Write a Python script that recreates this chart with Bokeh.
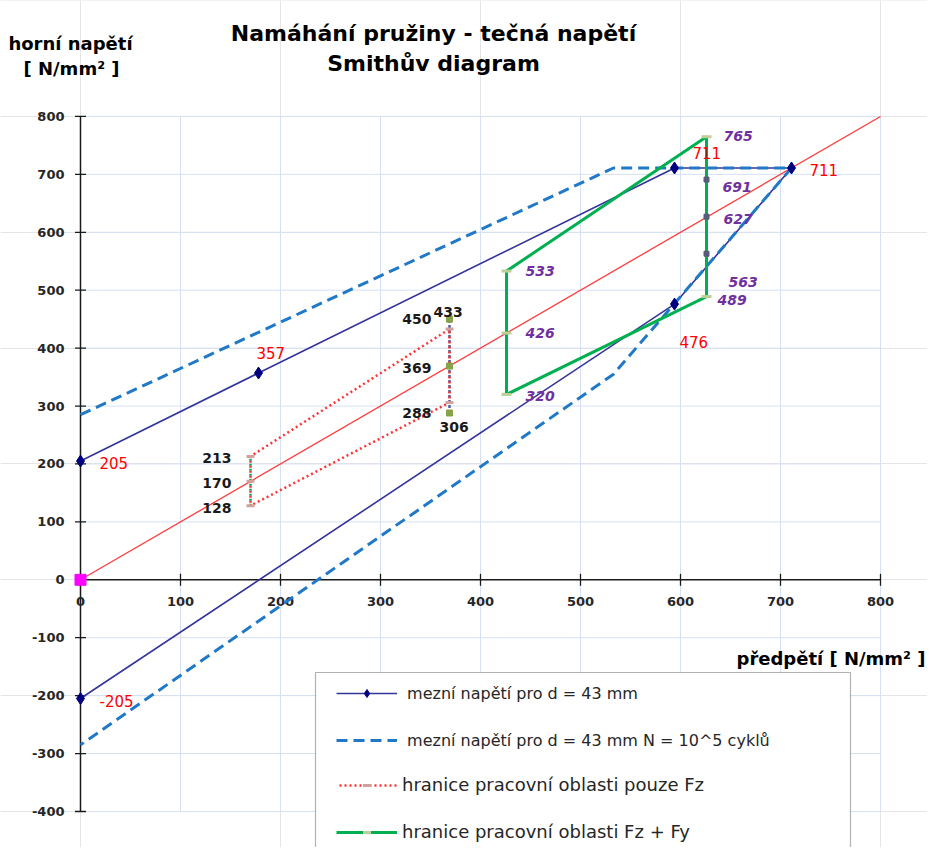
import math
from bokeh.plotting import figure
from bokeh.models import Range1d, Legend, LegendItem, BoxAnnotation, ColumnDataSource
from bokeh.core.properties import value
from bokeh.embed import file_html
from bokeh.resources import INLINE

# ---------------- data ----------------
x_ticks = [0, 100, 200, 300, 400, 500, 600, 700, 800]
y_ticks = [-400, -300, -200, -100, 0, 100, 200, 300, 400, 500, 600, 700, 800]

title_lines = ["Namáhání pružiny - tečná napětí", "Smithův diagram"]
y_title_lines = ["horní napětí", "[ N/mm² ]"]
x_title = "předpětí [ N/mm² ]"

legend_labels = [
    " mezní napětí pro d = 43 mm",
    " mezní napětí pro d = 43 mm N = 10^5 cyklů",
    "hranice pracovní oblasti pouze Fz",
    "hranice pracovní oblasti Fz + Fy",
]

# limit stress, d = 43 mm
limit_x = [0, 178, 594, 711, 594, 0]
limit_y = [205, 357, 711, 711, 476, -205]
# limit stress, N = 10^5 cycles
limit5_x = [0, 533, 711, 533, 0]
limit5_y = [285, 711, 711, 355, -285]
# mean stress line
mean_x = [0, 800]
mean_y = [0, 800]
# working region Fz only
fz_x = [170, 170, 369, 369, 170]
fz_y = [128, 213, 433, 306, 128]
fz_pts_x = [170, 170, 170, 369, 369]
fz_pts_y = [128, 170, 213, 433, 306]
fz_left_x = [170, 170]
fz_left_y = [128, 213]
fz_right_x = [369, 369]
fz_right_y = [288, 450]
fz_right_pts_x = [369, 369, 369]
fz_right_pts_y = [288, 369, 450]
# working region Fz + Fy
fzfy_x = [426, 426, 626, 626, 426]
fzfy_y = [320, 533, 765, 489, 320]
fzfy_pts_x = [426, 426, 426, 626, 626]
fzfy_pts_y = [320, 426, 533, 765, 489]
mid_pts_x = [626, 626, 626]
mid_pts_y = [691, 627, 563]

# data labels
red_lbl_x = [0, 0, 178, 594, 711, 594]
red_lbl_y = [205, -205, 357, 711, 711, 476]
purple_lbl_x = [626, 626, 626, 626, 626, 426, 426, 426]
purple_lbl_y = [765, 691, 627, 563, 489, 533, 426, 320]
blackR_lbl_x = [369, 369, 369, 170, 170, 170]
blackR_lbl_y = [450, 369, 288, 213, 170, 128]
blackL_lbl_x = [369, 369]
blackL_lbl_y = [433, 306]

# ---------------- layout constants ----------------
X0 = 80.0      # page x of data x = 0
Y0 = 579.3     # page y of data y = 0
KY = 0.5792    # px per data unit (y)
W, H = 927, 847


def dx(px):
    return px - X0


def dy(py):
    return (Y0 - py) / KY


p = figure(width=W, height=H,
           x_range=Range1d(dx(0), dx(W)),
           y_range=Range1d(dy(H), dy(0)),
           output_backend="svg", toolbar_location=None,
           x_axis_location=None, y_axis_location=None,
           min_border=0, outline_line_color=None,
           background_fill_color="white", border_fill_color="white")

FONT = value("DejaVu Sans")
GRID = "#d6e0f4"
AX = "#1a1a1a"

# grid
gx = x_ticks[1:]
p.segment(x0=gx, y0=[min(y_ticks)] * len(gx), x1=gx, y1=[max(y_ticks)] * len(gx),
          line_color=GRID, line_width=1)
gy = [v for v in y_ticks if v != 0]
p.segment(x0=[min(x_ticks)] * len(gy), y0=gy, x1=[max(x_ticks)] * len(gy), y1=gy,
          line_color=GRID, line_width=1)

# axes lines
p.segment(x0=[0], y0=[min(y_ticks)], x1=[0], y1=[max(y_ticks)], line_color=AX, line_width=1.5)
p.segment(x0=[min(x_ticks)], y0=[0], x1=[max(x_ticks)], y1=[0], line_color=AX, line_width=1.5)
# tick marks
p.scatter(x=[0] * len(y_ticks), y=y_ticks, marker="dash", size=11, line_color=AX, line_width=1.3)
p.scatter(x=x_ticks, y=[0] * len(x_ticks), marker="dash", angle=math.pi / 2, size=12,
          line_color=AX, line_width=1.3)

# tick labels
p.text(x=[dx(64)] * len(y_ticks), y=y_ticks, text=[str(v) for v in y_ticks],
       text_font=FONT, text_font_style="bold", text_font_size="13px", text_color="#262626",
       text_align="right", text_baseline="middle")
p.text(x=x_ticks, y=[0] * len(x_ticks), text=[str(v) for v in x_ticks], y_offset=22,
       text_font=FONT, text_font_style="bold", text_font_size="13px", text_color="#262626",
       text_align="center", text_baseline="middle")

# series
mean_r = p.line(mean_x, mean_y, line_color="#ff3b3b", line_width=1.3)
lim_r = p.line(limit_x, limit_y, line_color="#34349a", line_width=1.6)
lim5_r = p.line(limit5_x, limit5_y, line_color="#2079c7", line_width=3, line_dash="11 6")
lim_m = p.scatter(limit_x, limit_y, marker="diamond", size=12, fill_color="#000080",
                  line_color="#000080")

p.line(fz_left_x, fz_left_y, line_color="#00b050", line_width=2.5, line_dash="2 3")
p.line(fz_right_x, fz_right_y, line_color="#4f5f9f", line_width=2.5, line_dash="3 2")
fz_r = p.line(fz_x, fz_y, line_color="#ff3333", line_width=2.5, line_dash="2 3",
              line_dash_offset=2)
fz_m = p.scatter(fz_pts_x, fz_pts_y, marker="dash", size=8, line_color="#d4a09c", line_width=3)
p.scatter(fz_right_pts_x, fz_right_pts_y, marker="square", size=6, fill_color="#86a34a",
          line_color="#86a34a")

fzfy_r = p.line(fzfy_x, fzfy_y, line_color="#00b050", line_width=3)
fzfy_m = p.scatter(fzfy_pts_x, fzfy_pts_y, marker="dash", size=10, line_color="#bcd096",
                   line_width=3)
p.scatter(mid_pts_x, mid_pts_y, marker="square", size=5, fill_color="#5a5a7c",
          line_color="#5a5a7c")

p.scatter([mean_x[0]], [mean_y[0]], marker="square", size=11, fill_color="#ff00ff",
          line_color="#ff00ff")

# data labels
red_src = ColumnDataSource(dict(x=red_lbl_x, y=red_lbl_y, t=[str(v) for v in red_lbl_y],
                                xo=[19, 19, -2, 18, 18, 5], yo=[2, 2, -20, -15, 2, 38]))
p.text(x="x", y="y", text="t", x_offset="xo", y_offset="yo", source=red_src,
       text_font=FONT, text_font_size="15px", text_color="#ff0000",
       text_align="left", text_baseline="middle")

pur_src = ColumnDataSource(dict(x=purple_lbl_x, y=purple_lbl_y, t=[str(v) for v in purple_lbl_y],
                                xo=[17, 16, 17, 22, 11, 19, 19, 19], yo=[-1, 7, 2, 28, 3, 0, 0, 2]))
p.text(x="x", y="y", text="t", x_offset="xo", y_offset="yo", source=pur_src,
       text_font=FONT, text_font_style="bold italic", text_font_size="14px",
       text_color="#7030a0", text_align="left", text_baseline="middle")

bR_src = ColumnDataSource(dict(x=blackR_lbl_x, y=blackR_lbl_y, t=[str(v) for v in blackR_lbl_y],
                               xo=[-18, -18, -18, -19, -19, -19], yo=[0, 2, 0, 2, 2, 2]))
p.text(x="x", y="y", text="t", x_offset="xo", y_offset="yo", source=bR_src,
       text_font=FONT, text_font_style="bold", text_font_size="14px", text_color="#1a1a1a",
       text_align="right", text_baseline="middle")
bL_src = ColumnDataSource(dict(x=blackL_lbl_x, y=blackL_lbl_y, t=[str(v) for v in blackL_lbl_y],
                               xo=[-16, -10], yo=[-17, 24]))
p.text(x="x", y="y", text="t", x_offset="xo", y_offset="yo", source=bL_src,
       text_font=FONT, text_font_style="bold", text_font_size="14px", text_color="#1a1a1a",
       text_align="left", text_baseline="middle")

# titles
p.text(x=[dx(433), dx(433)], y=[dy(33), dy(63)], text=title_lines,
       text_font=FONT, text_font_style="bold", text_font_size="22px", text_color="#000000",
       text_align="center", text_baseline="alphabetic")
p.text(x=[dx(70), dx(71)], y=[dy(43), dy(68)], text=y_title_lines,
       text_font=FONT, text_font_style="bold", text_font_size="18px", text_color="#000000",
       text_align="center", text_baseline="alphabetic")
p.text(x=[dx(925)], y=[dy(658)], text=[x_title],
       text_font=FONT, text_font_style="bold", text_font_size="18px", text_color="#000000",
       text_align="right", text_baseline="alphabetic")

# legend frame
box = BoxAnnotation(left=dx(315), right=dx(850), top=dy(672), bottom=dy(960),
                    fill_color="white", fill_alpha=1.0, line_color="black", line_width=1.2)
p.add_layout(box)

item_h = 20
common = dict(orientation="vertical", padding=0, margin=0,
              glyph_width=61, glyph_height=item_h, label_height=item_h,
              label_text_font="DejaVu Sans", label_text_color="#262626",
              border_line_color=None, background_fill_alpha=0.0)

sp1 = 27
leg1 = Legend(items=[
    LegendItem(label=legend_labels[0], renderers=[lim_r, lim_m]),
    LegendItem(label=legend_labels[1], renderers=[lim5_r]),
], location=(336, H - 683 - (2 * item_h + sp1)), spacing=sp1, label_standoff=5,
    label_text_font_size="16px", **common)
p.add_layout(leg1)

sp2 = 26
leg2 = Legend(items=[
    LegendItem(label=legend_labels[2], renderers=[fz_r, fz_m]),
    LegendItem(label=legend_labels[3], renderers=[fzfy_r, fzfy_m]),
], location=(336, H - 776 - (2 * item_h + sp2)), spacing=sp2, label_standoff=5,
    label_text_font_size="18px", **common)
p.add_layout(leg2)

open("out.html", "w").write(file_html(p, INLINE))
